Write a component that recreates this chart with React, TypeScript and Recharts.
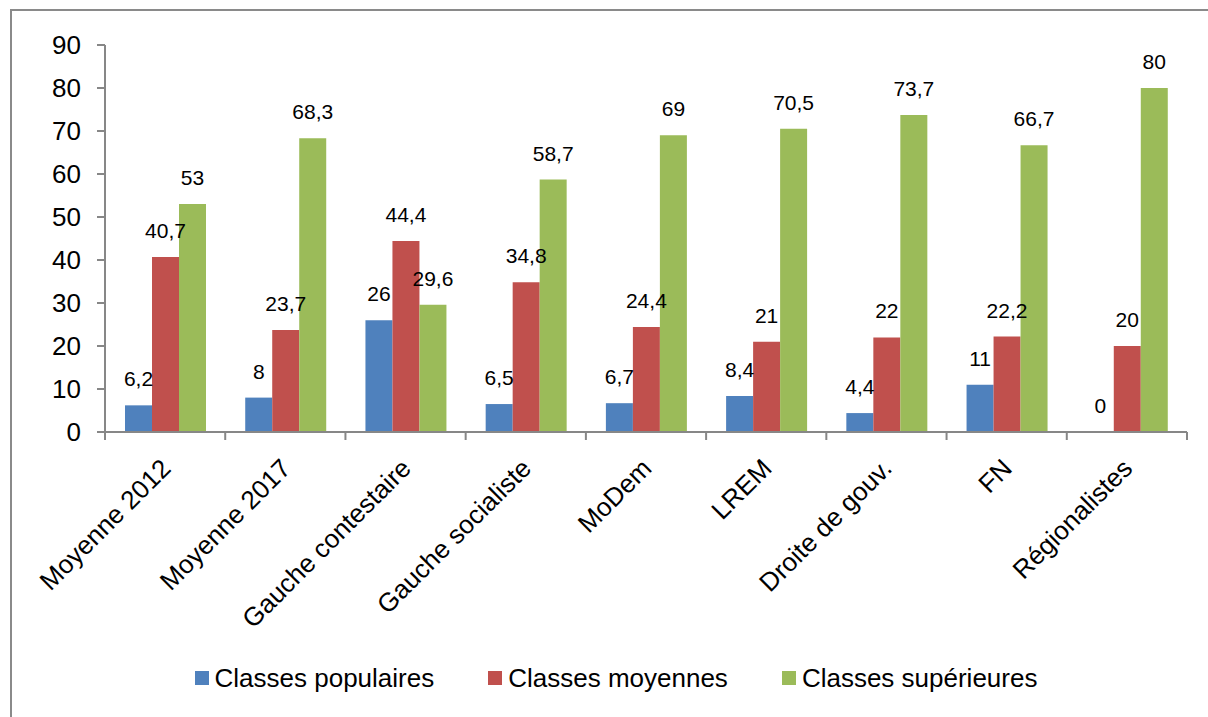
import React from "react";
import { BarChart, Bar, XAxis, YAxis, LabelList, Legend } from "recharts";

const categories = [
  "Moyenne 2012",
  "Moyenne 2017",
  "Gauche contestaire",
  "Gauche socialiste",
  "MoDem",
  "LREM",
  "Droite de gouv.",
  "FN",
  "Régionalistes",
];
const populaires = [6.2, 8, 26, 6.5, 6.7, 8.4, 4.4, 11, 0];
const moyennes = [40.7, 23.7, 44.4, 34.8, 24.4, 21, 22, 22.2, 20];
const superieures = [53, 68.3, 29.6, 58.7, 69, 70.5, 73.7, 66.7, 80];
const yTicks = [0, 10, 20, 30, 40, 50, 60, 70, 80, 90];

const seriesNames = ["Classes populaires", "Classes moyennes", "Classes supérieures"];
const colors = ["#4F81BD", "#C0504D", "#9BBB59"];

const data = categories.map((c, i) => ({
  name: c,
  pop: populaires[i],
  moy: moyennes[i],
  sup: superieures[i],
}));

const FONT = "'Liberation Sans', Arial, sans-serif";
const AXIS = "#878787";

const fmt = (v: any) => String(v).replace(".", ",");

const renderLabel = (p: any) => {
  const { x, y, width, height, value } = p;
  if (value === undefined || value === null) return null;
  const top = Number(y) + Math.min(0, Number(height) || 0);
  return (
    <text
      x={Number(x) + Number(width) / 2}
      y={top - 19}
      textAnchor="middle"
      fontSize={21}
      fill="#000"
      fontFamily={FONT}
    >
      {fmt(value)}
    </text>
  );
};

const XTick = (props: any) => {
  const { x, y, payload, index, visibleTicksCount } = props;
  const half = payload && payload.offset ? payload.offset : 60.1;
  const tx = x + 7;
  const ty = y + 38;
  return (
    <g>
      <line x1={x - half} y1={y} x2={x - half} y2={y + 8} stroke={AXIS} strokeWidth={2} />
      {index === (visibleTicksCount ?? categories.length) - 1 && (
        <line x1={x + half} y1={y} x2={x + half} y2={y + 8} stroke={AXIS} strokeWidth={2} />
      )}
      <text
        x={tx}
        y={ty}
        textAnchor="end"
        fontSize={26}
        fill="#000"
        fontFamily={FONT}
        transform={`rotate(-45, ${tx}, ${ty})`}
      >
        {payload.value}
      </text>
    </g>
  );
};

const LegendContent = () => (
  <div
    style={{
      display: "flex",
      justifyContent: "center",
      alignItems: "center",
      fontFamily: FONT,
      fontSize: 26,
      color: "#000",
      height: 30,
      paddingLeft: 24,
      boxSizing: "border-box",
    }}
  >
    {seriesNames.map((n, i) => (
      <div key={n} style={{ display: "flex", alignItems: "center", marginRight: i < 2 ? 54 : 0 }}>
        <div style={{ width: 14, height: 14, background: colors[i], marginRight: 6 }} />
        <span>{n}</span>
      </div>
    ))}
  </div>
);

export default function App() {
  return (
    <div style={{ position: "absolute", left: 0, top: 0, width: 1208, height: 717, overflow: "hidden", background: "#fff" }}>
      <div
        style={{
          position: "absolute",
          left: 10,
          top: 9,
          width: 1240,
          height: 740,
          border: "2px solid #8a8a8a",
          boxSizing: "border-box",
        }}
      />
      <div style={{ position: "absolute", left: 0, top: 0 }}>
        <BarChart
          width={1208}
          height={717}
          data={data}
          margin={{ top: 45, right: 21, left: 0, bottom: 0 }}
          barGap={0}
        >
          <YAxis
            width={105}
            domain={[0, 90]}
            ticks={yTicks}
            interval={0}
            tickSize={8}
            tickMargin={16}
            axisLine={{ stroke: AXIS, strokeWidth: 2 }}
            tickLine={{ stroke: AXIS, strokeWidth: 2 }}
            tick={{ fontSize: 26, fill: "#000", fontFamily: FONT }}
          />
          <XAxis
            dataKey="name"
            height={255}
            interval={0}
            tickSize={0}
            tickMargin={0}
            axisLine={{ stroke: AXIS, strokeWidth: 2 }}
            tickLine={false}
            tick={<XTick />}
          />
          <Legend
            verticalAlign="bottom"
            content={<LegendContent />}
            wrapperStyle={{ bottom: 24, left: 0, width: 1208 }}
          />
          <Bar dataKey="pop" name={seriesNames[0]} fill={colors[0]} barSize={27} minPointSize={0.3} isAnimationActive={false}>
            <LabelList dataKey="pop" content={renderLabel} />
          </Bar>
          <Bar dataKey="moy" name={seriesNames[1]} fill={colors[1]} barSize={27} isAnimationActive={false}>
            <LabelList dataKey="moy" content={renderLabel} />
          </Bar>
          <Bar dataKey="sup" name={seriesNames[2]} fill={colors[2]} barSize={27} isAnimationActive={false}>
            <LabelList dataKey="sup" content={renderLabel} />
          </Bar>
        </BarChart>
      </div>
    </div>
  );
}
